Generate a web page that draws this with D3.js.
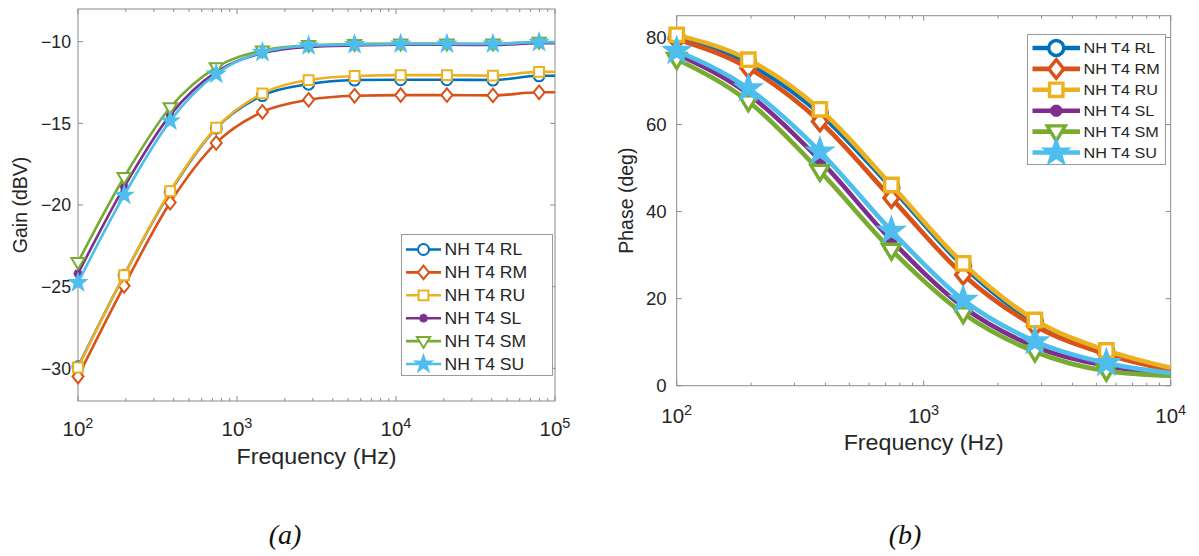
<!DOCTYPE html>
<html>
<head>
<meta charset="utf-8">
<script src="https://cdn.jsdelivr.net/npm/d3@7"></script>
<style>
  body { margin: 0; background: #fff; }
  svg { display: block; font-family: "Liberation Sans", Arial, Helvetica, sans-serif; }
  .frame { stroke: #8a8a8a; stroke-width: 1; fill: none; }
  .tick { stroke: #8a8a8a; stroke-width: 1; }
  .ticklabel, .axlabel, .legtext { fill: #262626; }
</style>
</head>
<body>
<svg id="fig" width="1199" height="556"></svg>
<script>
// series, same order in both panels
const seriesNames = ['NH T4 RL', 'NH T4 RM', 'NH T4 RU', 'NH T4 SL', 'NH T4 SM', 'NH T4 SU'];
const seriesColors = ['#0072BD', '#D95319', '#EDB120', '#7E2F8E', '#77AC30', '#4DBEEE'];
const seriesMarkers = ['circle', 'diamond', 'square', 'asterisk', 'triangleDown', 'star'];

// (a) gain, dBV. last frequency = axis edge (line only, no marker)
const gainFreq = [100, 195, 380, 740, 1445, 2820, 5490, 10700, 20900, 40700, 79400, 100000];
const gainRL = [-29.9, -24.3, -19.2, -15.3, -13.3, -12.6, -12.35, -12.33, -12.33, -12.35, -12.09, -12.09];
const gainRM = [-30.5, -24.95, -19.85, -16.2, -14.3, -13.56, -13.31, -13.27, -13.27, -13.29, -13.1, -13.1];
const gainRU = [-29.95, -24.3, -19.15, -15.27, -13.17, -12.35, -12.1, -12.05, -12.05, -12.08, -11.85, -11.85];
const gainSL = [-24.2, -18.9, -14.5, -11.85, -10.7, -10.32, -10.23, -10.19, -10.19, -10.2, -10.1, -10.1];
const gainSM = [-23.5, -18.3, -14.03, -11.57, -10.55, -10.22, -10.15, -10.12, -10.12, -10.13, -10.02, -10.02];
const gainSU = [-24.75, -19.4, -14.85, -11.98, -10.65, -10.25, -10.18, -10.14, -10.14, -10.14, -10.04, -10.04];
const gainTicks = [-30, -25, -20, -15, -10];

// (b) phase, deg. last frequency = axis edge (line only, no marker)
const phaseFreq = [100, 195, 380, 740, 1445, 2820, 5490, 10000];
const phaseRL = [80.0, 74.0, 62.5, 45.5, 27.5, 14.6, 7.8, 3.8];
const phaseRM = [79.6, 73.0, 60.7, 43.1, 25.5, 13.7, 7.2, 3.5];
const phaseRU = [80.6, 74.9, 63.5, 46.1, 28.1, 15.1, 8.1, 4.1];
const phaseSL = [76.2, 67.0, 51.8, 33.4, 18.1, 9.0, 4.6, 2.6];
const phaseSM = [75.0, 65.3, 49.3, 31.2, 16.6, 7.8, 3.4, 2.3];
const phaseSU = [76.9, 68.3, 53.8, 35.6, 19.7, 10.2, 5.2, 2.9];
const phaseTicks = [0, 20, 40, 60, 80];

const svg = d3.select('#fig');

// marker shape paths, s = nominal size in px
function markerPath(kind, s) {
  if (kind == 'circle') return d3.symbol(d3.symbolCircle, Math.PI * s * s / 4)();
  if (kind == 'square') return d3.symbol(d3.symbolSquare, s * s * 0.8)();
  if (kind == 'diamond') {
    let h = s * 0.62, w = s * 0.5;
    return `M0,${-h}L${w},0L0,${h}L${-w},0Z`;
  }
  if (kind == 'triangleDown') {
    let w = s * 0.6, t = s * 0.38, b = s * 0.62;
    return `M${-w},${-t}L${w},${-t}L0,${b}Z`;
  }
  if (kind == 'star') {
    let R = s * 0.75, r = R * 0.4, p = [];
    for (let i = 0; i < 10; i++) {
      let a = -Math.PI / 2 + i * Math.PI / 5, rr = i % 2 ? r : R;
      p.push([rr * Math.cos(a), rr * Math.sin(a)]);
    }
    return 'M' + p.join('L') + 'Z';
  }
  // asterisk
  let r = s * 0.4, p = '';
  for (let i = 0; i < 4; i++) {
    let a = i * Math.PI / 4;
    p += `M${-r * Math.cos(a)},${-r * Math.sin(a)}L${r * Math.cos(a)},${r * Math.sin(a)}`;
  }
  return p;
}

function drawMarker(g, kind, color, x, y, s, sw) {
  g.append('path')
    .attr('d', markerPath(kind, s))
    .attr('transform', `translate(${x},${y})`)
    .attr('fill', kind == 'star' ? color : (kind == 'asterisk' ? 'none' : '#fff'))
    .attr('stroke', color)
    .attr('stroke-width', kind == 'asterisk' ? sw * 1.3 : sw)
    .attr('stroke-linejoin', 'miter');
}

function drawPanel(p) {
  let g = svg.append('g');
  let x = d3.scaleLog().domain(p.xDomain).range([p.left, p.right]);
  let y = d3.scaleLinear().domain(p.yDomain).range([p.bottom, p.top]);

  // frame
  g.append('rect').attr('class', 'frame')
    .attr('x', p.left).attr('y', p.top)
    .attr('width', p.right - p.left).attr('height', p.bottom - p.top);

  // log ticks, inward on bottom and top
  let e0 = Math.log10(p.xDomain[0]), e1 = Math.log10(p.xDomain[1]);
  let xt = [];
  for (let e = e0; e <= e1; e++) {
    for (let k = 1; k <= 9; k++) {
      let v = k * Math.pow(10, e);
      if (v > p.xDomain[1]) break;
      xt.push({v: v, major: k == 1});
    }
  }
  xt.forEach(t => {
    let len = t.major ? 5 : 3;
    g.append('line').attr('class', 'tick')
      .attr('x1', x(t.v)).attr('x2', x(t.v)).attr('y1', p.bottom).attr('y2', p.bottom - len);
    g.append('line').attr('class', 'tick')
      .attr('x1', x(t.v)).attr('x2', x(t.v)).attr('y1', p.top).attr('y2', p.top + len);
  });
  p.yTicks.forEach(v => {
    g.append('line').attr('class', 'tick')
      .attr('x1', p.left).attr('x2', p.left + 5).attr('y1', y(v)).attr('y2', y(v));
    g.append('line').attr('class', 'tick')
      .attr('x1', p.right).attr('x2', p.right - 5).attr('y1', y(v)).attr('y2', y(v));
    g.append('text').attr('class', 'ticklabel')
      .attr('x', p.left - p.yTickPad).attr('y', y(v)).attr('dy', '0.35em')
      .attr('text-anchor', 'end').attr('font-size', p.yTickSize)
      .text(String(v).replace('-', '\u2212'));
  });
  // decade labels 10^n
  for (let e = e0; e <= e1; e++) {
    let t = g.append('text').attr('class', 'ticklabel')
      .attr('x', x(Math.pow(10, e))).attr('y', p.bottom + p.xTickDrop)
      .attr('text-anchor', 'middle').attr('font-size', 20.5);
    t.append('tspan').text('10');
    t.append('tspan').attr('dy', -8).attr('font-size', 14.5).text(e);
  }

  // axis labels
  g.append('text').attr('class', 'axlabel')
    .attr('x', (p.left + p.right) / 2).attr('y', p.xLabelY)
    .attr('text-anchor', 'middle').attr('font-size', 21.5)
    .attr('textLength', 160).attr('lengthAdjust', 'spacingAndGlyphs')
    .text('Frequency (Hz)');
  g.append('text').attr('class', 'axlabel')
    .attr('transform', `translate(${p.yLabelX},${(p.top + p.bottom) / 2}) rotate(-90)`)
    .attr('text-anchor', 'middle').attr('dy', '0.35em').attr('font-size', 19.5)
    .text(p.yLabel);

  // lines + markers
  let line = d3.line()
    .x((d, i) => x(p.freq[i]))
    .y(d => y(d))
    .curve(d3.curveMonotoneX);
  p.series.forEach((vals, si) => {
    g.append('path')
      .attr('d', line(vals))
      .attr('fill', 'none')
      .attr('stroke', seriesColors[si])
      .attr('stroke-width', p.lineWidth)
      .attr('stroke-linejoin', 'round');
    let mg = g.append('g');
    vals.slice(0, vals.length - 1).forEach((v, i) => {
      drawMarker(mg, seriesMarkers[si], seriesColors[si], x(p.freq[i]), y(v), p.markerSize, p.markerWidth);
    });
  });

  // legend
  let L = p.legend;
  let lg = g.append('g');
  lg.append('rect')
    .attr('x', L.x0).attr('y', L.y0).attr('width', L.x1 - L.x0).attr('height', L.y1 - L.y0)
    .attr('fill', '#fff').attr('stroke', '#9a9a9a').attr('stroke-width', 1);
  seriesNames.forEach((name, i) => {
    let yy = L.row0 + i * L.step;
    lg.append('line')
      .attr('x1', L.lineX0).attr('x2', L.lineX1).attr('y1', yy).attr('y2', yy)
      .attr('stroke', seriesColors[i]).attr('stroke-width', p.lineWidth);
    drawMarker(lg, seriesMarkers[i], seriesColors[i], (L.lineX0 + L.lineX1) / 2, yy, p.markerSize, p.markerWidth);
    lg.append('text').attr('class', 'legtext')
      .attr('transform', `translate(${L.textX},${yy}) scale(${L.stretch},1)`)
      .attr('dy', '0.36em').attr('font-size', L.fontSize)
      .text(name);
  });
}

drawPanel({
  left: 78, top: 9, right: 555, bottom: 401,
  xDomain: [1e2, 1e5], yDomain: [-32, -8], yTicks: gainTicks,
  yTickPad: 7, yTickSize: 17.7, xTickDrop: 34.7,
  xLabelY: 464, yLabelX: 20, yLabel: 'Gain (dBV)',
  freq: gainFreq,
  series: [gainRL, gainRM, gainRU, gainSL, gainSM, gainSU],
  lineWidth: 2.6, markerSize: 11, markerWidth: 2,
  legend: {x0: 401.5, y0: 234.5, x1: 552.5, y1: 375.5, row0: 249.5, step: 22.9,
           lineX0: 406, lineX1: 441, textX: 444.5, fontSize: 16, stretch: 1.1}
});

drawPanel({
  left: 676.7, top: 15.7, right: 1170.7, bottom: 385.7,
  xDomain: [1e2, 1e4], yDomain: [0, 85], yTicks: phaseTicks,
  yTickPad: 10, yTickSize: 18.6, xTickDrop: 37.6,
  xLabelY: 450, yLabelX: 626, yLabel: 'Phase (deg)',
  freq: phaseFreq,
  series: [phaseRL, phaseRM, phaseRU, phaseSL, phaseSM, phaseSU],
  lineWidth: 4.6, markerSize: 15, markerWidth: 3.4,
  legend: {x0: 1027.5, y0: 34.5, x1: 1165.5, y1: 164.5, row0: 48, step: 20.9,
           lineX0: 1032.5, lineX1: 1080, textX: 1083.5, fontSize: 15, stretch: 1.08}
});

// panel captions
[['(a)', 285], ['(b)', 905]].forEach(([txt, cx]) => {
  svg.append('text')
    .attr('x', cx).attr('y', 544)
    .attr('text-anchor', 'middle')
    .attr('font-family', '"Liberation Serif", "Times New Roman", serif')
    .attr('font-style', 'italic').attr('font-size', 28)
    .attr('fill', '#111')
    .text(txt);
});
</script>
</body>
</html>
